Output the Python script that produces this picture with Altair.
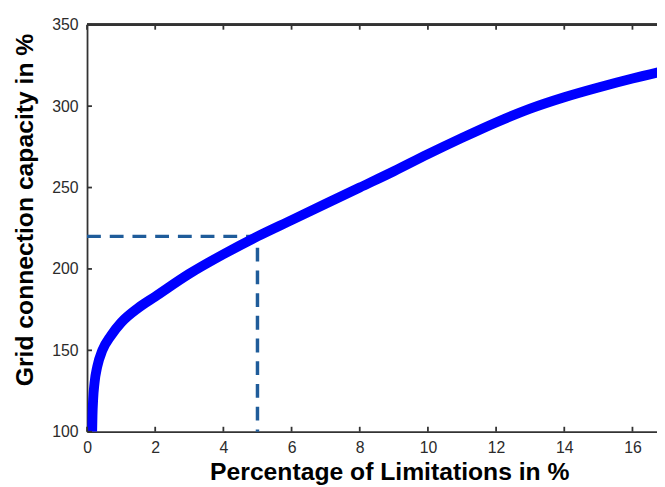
import altair as alt
import pandas as pd

# Curve data
x_vals = [0.15, 0.16, 0.18, 0.22, 0.30, 0.45, 0.70, 1.00, 1.50, 2.00, 3.00, 4.00, 5.00,
          6.00, 7.00, 8.00, 9.00, 10.00, 11.00, 12.00, 13.00, 14.00, 15.00, 16.00, 16.80]
y_vals = [100, 110, 120, 130, 140, 150, 159, 167, 176, 183, 197, 209, 220,
          230, 240, 250, 260, 270.5, 280.5, 290, 298.5, 305.5, 311.5, 317, 321]

# Dashed marker line
marker_x = [0, 5, 5]
marker_y = [220, 220, 100]

x_ticks = [0, 2, 4, 6, 8, 10, 12, 14, 16]
y_ticks = [100, 150, 200, 250, 300, 350]

W, H = 577, 412
x_domain = [0, 16.72]
y_domain = [100, 350]

curve_df = pd.DataFrame({"x": x_vals, "y": y_vals})
marker_df = pd.DataFrame({"x": marker_x, "y": marker_y, "i": list(range(len(marker_x)))})
xt_df = pd.DataFrame({"x": x_ticks})
yt_df = pd.DataFrame({"y": y_ticks})

xs = alt.Scale(domain=x_domain, nice=False, zero=False)
ys = alt.Scale(domain=y_domain, nice=False, zero=False)

axis_common = dict(
    ticks=False, tickSize=0, grid=False, domainColor="#333333", domainWidth=1.8,
    labelFont="Liberation Sans", labelFontSize=16, labelColor="#2b2b2b",
    titleFont="Liberation Sans", titleFontSize=25, titleFontWeight="bold",
    titleColor="#000000", titleAlign="center", titleBaseline="alphabetic",
)
x_axis = alt.Axis(title="Percentage of Limitations in %", values=x_ticks, format="d",
                  labelPadding=8, labelFlush=False, titleX=306, titleY=48, **axis_common)
y_axis = alt.Axis(title="Grid connection capacity in %", values=y_ticks, format="d",
                  labelPadding=9, titleAngle=270, titleX=-55, titleY=187, **axis_common)

X = alt.X("x:Q", scale=xs, axis=x_axis, title="Percentage of Limitations in %")
Y = alt.Y("y:Q", scale=ys, axis=y_axis, title="Grid connection capacity in %")

curve = alt.Chart(curve_df).mark_line(
    color="#0000ff", strokeWidth=10, interpolate="monotone", clip=True
).encode(x=X, y=Y)

marker = alt.Chart(marker_df).mark_line(
    color="#1f5c9a", strokeWidth=3.5, strokeDash=[14, 9]
).encode(x=X, y=Y, order="i:Q")

bottom_ticks = alt.Chart(xt_df).mark_rule(color="#333333", strokeWidth=1.8).encode(
    x=X, y=alt.value(H), y2=alt.value(H - 5))
top_ticks = alt.Chart(xt_df).mark_rule(color="#333333", strokeWidth=1.8).encode(
    x=X, y=alt.value(0), y2=alt.value(5))
left_ticks = alt.Chart(yt_df).mark_rule(color="#333333", strokeWidth=1.8).encode(
    y=Y, x=alt.value(0), x2=alt.value(5))
top_border = alt.Chart(xt_df).mark_rule(color="#333333", strokeWidth=1.8).encode(
    x=alt.value(0), x2=alt.value(W), y=alt.value(0))

chart = alt.layer(marker, curve, bottom_ticks, top_ticks, left_ticks, top_border).properties(
    width=W, height=H,
    autosize=alt.AutoSizeParams(type="none"),
    padding={"left": 80, "top": 14, "right": 0, "bottom": 53},
    background="white",
).configure_view(stroke=None)

chart.save("out.html", embed_options={"renderer": "svg", "actions": False})
